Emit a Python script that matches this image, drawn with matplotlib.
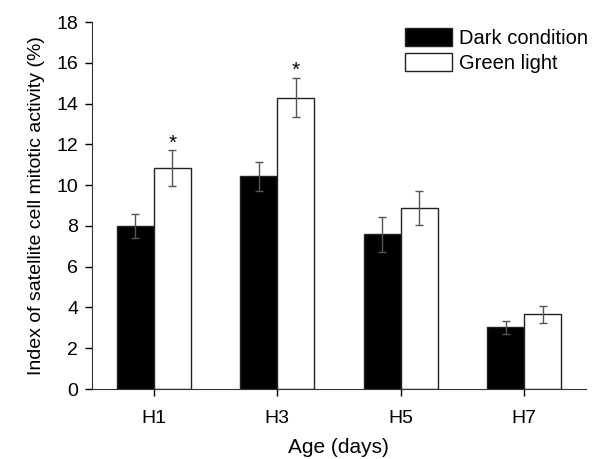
import matplotlib.pyplot as plt
import numpy as np

plt.rcParams['font.family'] = ['Liberation Sans', 'DejaVu Sans']

ages = ['H1', 'H3', 'H5', 'H7']
dark = [8.0, 10.43, 7.59, 3.03]
dark_err = [0.6, 0.72, 0.86, 0.32]
green = [10.84, 14.29, 8.86, 3.66]
green_err = [0.86, 0.97, 0.83, 0.4]
signif = [True, True, False, False]

fig = plt.figure(figsize=(5.99, 4.59), dpi=100)
ax = fig.add_axes([0.1536, 0.1525, 0.8244, 0.7995])

x = np.arange(len(ages))
w = 0.3
err_kw = dict(ecolor='#555555', elinewidth=1, capsize=2.6, capthick=1)
ax.bar(x - w / 2, dark, w, yerr=dark_err, color='black', edgecolor='#222222',
       linewidth=1, label='Dark condition', error_kw=err_kw)
ax.bar(x + w / 2, green, w, yerr=green_err, color='white', edgecolor='#222222',
       linewidth=1, label='Green light', error_kw=err_kw)

for i, s in enumerate(signif):
    if s:
        ax.text(x[i] + w / 2, green[i] + green_err[i] + 0.35, '*', ha='center',
                va='center', fontsize=15)

ax.set_xlim(-0.5, 3.5)
ax.set_ylim(0, 18)
ax.set_yticks(range(0, 19, 2))
ax.set_xticks(x)
ax.set_xticklabels(ages)
ax.tick_params(labelsize=14, length=5, width=1, direction='out', pad=5)
ax.tick_params(axis='x', pad=10)
for side in ['top', 'right']:
    ax.spines[side].set_visible(False)
for side in ['left', 'bottom']:
    ax.spines[side].set_color('#333333')

ax.set_ylabel('Index of satellite cell mitotic activity (%)', fontsize=14, labelpad=8)
ax.set_xlabel('Age (days)', fontsize=15, labelpad=8)
ax.legend(loc='upper right', frameon=False, fontsize=14.5, handlelength=2.3,
          handleheight=1.0, borderaxespad=0.0, labelspacing=0.25, handletextpad=0.35,
          bbox_to_anchor=(1.02, 1.005))

fig.savefig('out.png', dpi=100)
